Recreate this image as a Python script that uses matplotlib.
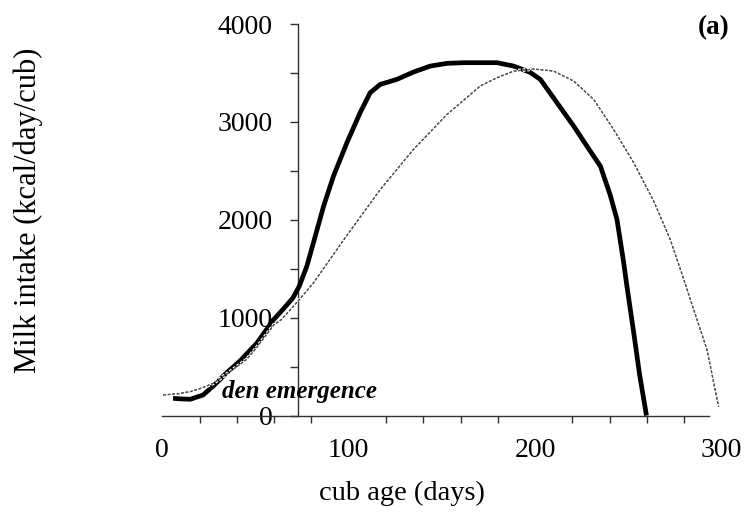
import matplotlib
matplotlib.use("Agg")
import matplotlib.pyplot as plt
import matplotlib.patheffects as pe
import numpy as np

# Observed milk intake (solid line)
obs_day = [5.8, 10, 15, 21.9, 27.4, 34.6, 41.7, 50.7, 59.6, 65, 70, 73.4, 77.5, 81,
           86.5, 91.8, 99, 106.1, 111.5, 116.9, 125.8, 134.7, 143.7, 152.7, 162,
           170.5, 179.5, 188.5, 197.4, 202.8, 211.7, 220.7, 227.8, 235, 240.3,
           243.9, 247.5, 249, 252.9, 256, 259.7]
obs_val = [176, 170, 166, 210, 302, 438, 558, 739, 977, 1090, 1200, 1318, 1523, 1760,
           2137, 2444, 2786, 3093, 3298, 3383, 3434, 3509, 3570, 3598, 3605,
           3605, 3605, 3570, 3505, 3434, 3196, 2956, 2751, 2547, 2250,
           2001, 1560, 1350, 841, 420, 0]

# Model milk intake (dotted line)
mod_day = [0.5, 8, 15, 21, 27.4, 35, 45, 50, 60, 63.9, 73.4, 81, 93.6, 99, 116.9,
           134.7, 152.7, 170.5, 179.5, 188.5, 199.3, 209.9, 220.7, 231.4, 242.1,
           252.9, 263.6, 272.5, 279.7, 283.3, 292.2, 298.4]
mod_val = [210, 222, 244, 280, 330, 430, 570, 680, 930, 980, 1182, 1353, 1694, 1840, 2308,
           2718, 3076, 3366, 3451, 3519, 3540, 3519, 3417, 3229, 2922,
           2581, 2190, 1796, 1392, 1182, 670, 90]

x_major = [0, 100, 200, 300]
x_minor = list(range(0, 281, 20))
y_major = [0, 1000, 2000, 3000, 4000]
y_minor = list(range(0, 4001, 500))
den_emergence_day = 73

plt.rcParams['font.family'] = ['Liberation Serif', 'DejaVu Serif']

fig = plt.figure(figsize=(7.44, 5.13), dpi=100)
ax = fig.add_axes([0.2181, 0.19, 0.7518, 0.7632])

ax.plot(obs_day, obs_val, color='black', lw=3.4, solid_capstyle='butt',
        solid_joinstyle='round', zorder=3)
ax.plot(mod_day, mod_val, color='#505050', lw=0.9, linestyle=(0, (2.2, 1.4)), zorder=4,
        path_effects=[pe.withStroke(linewidth=2.6, foreground='white'), pe.Normal()])

ax.set_xlim(0, 300)
ax.set_ylim(0, 4000)

for s in ['top', 'right']:
    ax.spines[s].set_visible(False)
ax.spines['left'].set_position(('data', den_emergence_day))
ax.spines['bottom'].set_bounds(0, 293)
for s in ['left', 'bottom']:
    ax.spines[s].set_linewidth(1.0)
    ax.spines[s].set_color('#303030')

ax.set_xticks(x_major)
ax.set_xticklabels([str(v) for v in x_major])
ax.set_xticks(x_minor, minor=True)
ax.tick_params(axis='x', which='major', length=0, pad=16, labelsize=20)
ax.tick_params(axis='x', which='minor', length=5, width=1.0, color='#303030', direction='out')

ax.set_yticks(y_major)
ax.set_yticklabels([str(v) for v in y_major])
ax.set_yticks(y_minor, minor=True)
ax.tick_params(axis='y', which='both', length=5.5, width=1.0, color='#303030', direction='out')
ax.tick_params(axis='y', which='major', pad=13, labelsize=20)

ax.text(31.9, 179, 'den emergence', fontsize=18, fontweight='bold', style='italic',
        ha='left', va='baseline', zorder=5)
ax.text(295.5, 3966, '(a)', fontsize=19.5, fontweight='bold', ha='center', va='center')

fig.text(402 / 744, 1 - 493 / 513, 'cub age (days)', fontsize=20.5, ha='center', va='center')
fig.text(28 / 744, 1 - 210 / 513, 'Milk intake (kcal/day/cub)', fontsize=22,
         rotation=90, ha='center', va='center')

fig.savefig('out.png', dpi=100)
